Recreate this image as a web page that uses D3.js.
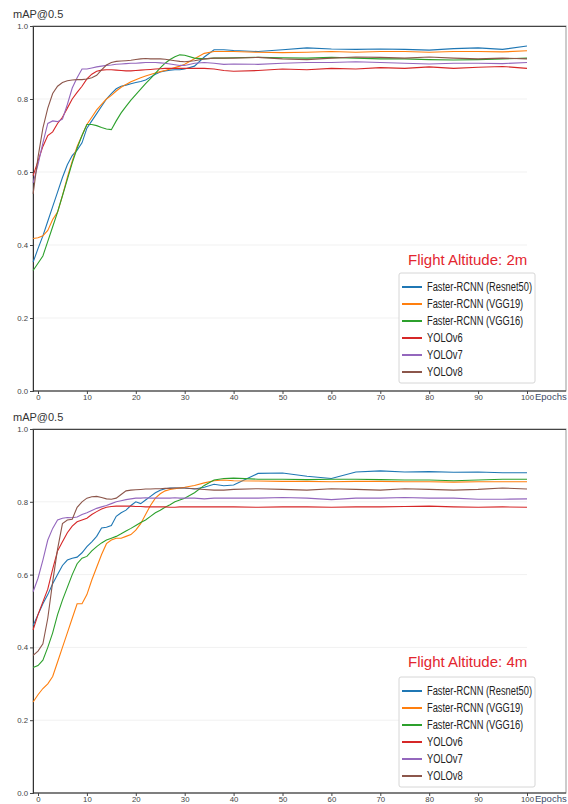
<!DOCTYPE html>
<html>
<head>
<meta charset="utf-8">
<script src="https://cdn.jsdelivr.net/npm/d3@7"></script>
<style>
  body { margin: 0; background: #fff; }
  svg { display: block; font-family: "Liberation Sans", Arial, sans-serif; }
  .tick text { font-size: 7.8px; fill: #444; }
  .legend text { font-family: "Liberation Sans", Arial, sans-serif; font-size: 12px; fill: #222; }
</style>
</head>
<body>
<div id="chart"></div>
<script>
var svgWidth = 568;
var svgHeight = 804;

// epochs (x values shared by every series)
var epochs = [-1, 0, 1, 2, 3, 4, 5, 6, 7, 8, 9, 10, 11, 12, 13, 14, 15, 16, 17, 18, 19, 20,
  21, 22, 23, 24, 25, 26, 27, 28, 29, 30, 32, 34, 36, 38, 40,
  45, 50, 55, 60, 65, 70, 75, 80, 85, 90, 95, 100];

var seriesNames = ["Faster-RCNN (Resnet50)", "Faster-RCNN (VGG19)", "Faster-RCNN (VGG16)", "YOLOv6", "YOLOv7", "YOLOv8"];
var seriesColors = ["#1f77b4", "#ff7f0e", "#2ca02c", "#d62728", "#9467bd", "#8c564b"];
var yTicks = [0, 0.2, 0.4, 0.6, 0.8, 1.0];
var xTicks = [0, 10, 20, 30, 40, 50, 60, 70, 80, 90, 100];

// Flight altitude 2m
var resnet50_2m = [.353, .39, .425, .465, .505, .545, .585, .62, .645, .66, .68, .72, .74, .76, .78, .80, .815, .828, .835, .838, .842, .845,
  .848, .852, .86, .868, .874, .877, .879, .88, .88, .882, .89, .915, .935, .935, .933,
  .93, .935, .94, .937, .936, .937, .936, .934, .938, .94, .936, .945];
var vgg19_2m = [.418, .42, .425, .44, .47, .49, .535, .585, .63, .67, .70, .73, .75, .77, .785, .80, .81, .822, .832, .84, .847, .853,
  .858, .863, .867, .871, .875, .878, .882, .886, .89, .895, .91, .925, .93, .93, .93,
  .928, .927, .928, .93, .928, .93, .93, .928, .93, .93, .929, .932];
var vgg16_2m = [.33, .35, .37, .41, .45, .49, .535, .58, .625, .665, .70, .73, .73, .727, .722, .718, .716, .74, .762, .78, .797, .812,
  .827, .842, .856, .87, .885, .898, .908, .916, .921, .92, .912, .91, .912, .912, .913,
  .914, .913, .912, .914, .912, .91, .91, .908, .907, .908, .91, .912];
var yolov6_2m = [.59, .63, .67, .70, .71, .733, .75, .775, .80, .818, .835, .855, .868, .876, .879, .88, .88, .879, .878, .877, .877, .878,
  .879, .88, .881, .882, .883, .884, .884, .884, .884, .884, .884, .884, .882, .878, .876,
  .878, .882, .88, .884, .882, .886, .884, .888, .884, .887, .889, .884];
var yolov7_2m = [.57, .62, .68, .733, .74, .738, .745, .785, .83, .858, .882, .882, .885, .888, .89, .892, .893, .895, .896, .897, .898, .898,
  .899, .90, .90, .90, .899, .898, .896, .894, .892, .892, .898, .90, .898, .895, .896,
  .895, .898, .90, .90, .902, .90, .898, .896, .898, .898, .897, .90];
var yolov8_2m = [.54, .64, .72, .775, .815, .835, .845, .85, .852, .853, .853, .855, .858, .865, .88, .893, .90, .903, .904, .905, .906, .908,
  .91, .911, .91, .91, .91, .909, .907, .905, .903, .902, .905, .91, .912, .912, .912,
  .914, .91, .908, .912, .915, .914, .912, .915, .912, .91, .912, .91];

// Flight altitude 4m
var resnet50_4m = [.46, .49, .52, .545, .575, .60, .625, .64, .645, .648, .66, .677, .69, .705, .728, .73, .735, .76, .77, .777, .79, .80,
  .795, .805, .815, .825, .832, .836, .838, .838, .838, .838, .835, .84, .848, .844, .846,
  .878, .879, .87, .864, .882, .885, .882, .883, .881, .882, .88, .88];
var vgg19_4m = [.25, .27, .287, .30, .32, .36, .40, .44, .48, .52, .52, .545, .585, .62, .655, .685, .695, .70, .70, .705, .71, .722,
  .74, .765, .79, .81, .822, .83, .834, .836, .838, .84, .845, .852, .858, .86, .858,
  .857, .856, .856, .855, .856, .856, .855, .855, .854, .855, .855, .855];
var vgg16_4m = [.345, .35, .365, .40, .44, .49, .53, .565, .60, .63, .645, .65, .665, .677, .687, .695, .70, .705, .712, .72, .727, .735,
  .743, .75, .76, .77, .777, .785, .792, .80, .805, .81, .825, .845, .86, .864, .865,
  .862, .862, .861, .862, .862, .861, .86, .86, .858, .86, .862, .862];
var yolov6_4m = [.448, .49, .525, .56, .615, .665, .69, .715, .733, .745, .75, .755, .765, .773, .78, .785, .787, .788, .788, .788, .788, .787,
  .787, .786, .786, .786, .786, .786, .785, .785, .786, .786, .786, .786, .786, .786, .786,
  .785, .786, .786, .785, .786, .786, .787, .788, .786, .785, .786, .785];
var yolov7_4m = [.553, .59, .64, .695, .727, .75, .755, .757, .756, .758, .765, .77, .776, .782, .786, .79, .795, .80, .803, .806, .808, .81,
  .81, .811, .81, .81, .81, .81, .81, .811, .81, .81, .81, .808, .81, .81, .81,
  .81, .812, .81, .806, .81, .81, .812, .81, .81, .807, .807, .808];
var yolov8_4m = [.378, .39, .41, .48, .58, .67, .74, .75, .752, .785, .80, .81, .814, .815, .812, .808, .807, .81, .82, .83, .832, .833,
  .834, .835, .835, .836, .836, .837, .837, .838, .838, .838, .836, .834, .832, .832, .834,
  .836, .834, .832, .836, .834, .832, .836, .834, .832, .834, .838, .835];

var panels = [
  { top: 26, bottom: 391, titleY: 18, label: "Flight Altitude: 2m", labelY: 265,
    legendTop: 273, series: [resnet50_2m, vgg19_2m, vgg16_2m, yolov6_2m, yolov7_2m, yolov8_2m] },
  { top: 429, bottom: 793, titleY: 421, label: "Flight Altitude: 4m", labelY: 667,
    legendTop: 677, series: [resnet50_4m, vgg19_4m, vgg16_4m, yolov6_4m, yolov7_4m, yolov8_4m] }
];

var left = 33, right = 566;

var svg = d3.select("#chart")
  .append("svg")
  .attr("width", svgWidth)
  .attr("height", svgHeight);

// x scale: 0 -> 38px, 100 -> 527px
var xScale = d3.scaleLinear()
  .domain([0, 100])
  .range([38, 527]);

panels.forEach(function(p) {
  var yScale = d3.scaleLinear()
    .domain([0, 1])
    .range([p.bottom, p.top]);

  var g = svg.append("g");

  // faint gridlines
  g.selectAll("line.grid")
    .data(yTicks.slice(1, 5))
    .enter()
    .append("line")
    .attr("class", "grid")
    .attr("x1", left)
    .attr("x2", xScale(100))
    .attr("y1", d => yScale(d))
    .attr("y2", d => yScale(d))
    .attr("stroke", "#f1f1f1")
    .attr("stroke-width", 1);

  // frame
  g.append("rect")
    .attr("x", left)
    .attr("y", p.top)
    .attr("width", right - left)
    .attr("height", p.bottom - p.top)
    .attr("fill", "none")
    .attr("stroke", "#999");

  // axes
  var leftAxis = d3.axisLeft(yScale)
    .tickValues(yTicks)
    .tickFormat(d3.format(".1f"))
    .tickSize(3)
    .tickPadding(2);
  var bottomAxis = d3.axisBottom(xScale)
    .tickValues(xTicks)
    .tickSize(3)
    .tickPadding(1);

  var ya = g.append("g")
    .attr("transform", `translate(${left}, 0)`)
    .call(leftAxis);
  var xa = g.append("g")
    .attr("transform", `translate(0, ${p.bottom})`)
    .call(bottomAxis);
  [ya, xa].forEach(function(a) {
    a.select(".domain").attr("stroke", "#333");
    a.selectAll(".tick line").attr("stroke", "#444");
  });
  xa.select(".domain").attr("d", `M${left},0H${right}`);
  xa.selectAll(".tick text").attr("dy", "0.62em");

  g.append("line")
    .attr("x1", left).attr("x2", right)
    .attr("y1", p.top + 0.5).attr("y2", p.top + 0.5)
    .attr("stroke", "#444");

  // title and axis label
  g.append("text")
    .attr("x", 13)
    .attr("y", p.titleY)
    .attr("font-size", 11)
    .attr("fill", "#333")
    .text("mAP@0.5");

  g.append("text")
    .attr("x", 535)
    .attr("y", p.bottom + 9)
    .attr("font-size", 9.5)
    .attr("fill", "#3c4a66")
    .text("Epochs");

  // lines
  var line = d3.line()
    .x((d, i) => xScale(epochs[i]))
    .y(d => yScale(d));

  g.selectAll("path.series")
    .data(p.series)
    .enter()
    .append("path")
    .attr("class", "series")
    .attr("d", d => line(d))
    .attr("fill", "none")
    .attr("stroke", (d, i) => seriesColors[i])
    .attr("stroke-width", 1.1);

  // label
  g.append("text")
    .attr("x", 408)
    .attr("y", p.labelY)
    .attr("font-size", 15)
    .attr("fill", "#e3262f")
    .text(p.label);

  // legend
  var lg = g.append("g")
    .attr("class", "legend")
    .attr("transform", `translate(399, ${p.legendTop})`);

  lg.append("rect")
    .attr("width", 136)
    .attr("height", 110)
    .attr("rx", 2)
    .attr("fill", "#fff")
    .attr("fill-opacity", 0.85)
    .attr("stroke", "#d6d6d6");

  var rows = lg.selectAll("g.row")
    .data(seriesNames)
    .enter()
    .append("g")
    .attr("class", "row")
    .attr("transform", (d, i) => `translate(0, ${14 + i * 17})`);

  rows.append("line")
    .attr("x1", 3)
    .attr("x2", 23)
    .attr("stroke", (d, i) => seriesColors[i])
    .attr("stroke-width", 2);

  var labels = rows.append("text")
    .attr("x", 28)
    .attr("y", 4)
    .text(d => d);

  // the legend font is condensed: squeeze every label by the same factor
  var widest = d3.max(labels.nodes(), n => n.getComputedTextLength());
  var squeeze = 105 / widest;
  labels.each(function() {
    var w = this.getComputedTextLength();
    d3.select(this)
      .attr("textLength", w * squeeze)
      .attr("lengthAdjust", "spacingAndGlyphs");
  });
});
</script>
</body>
</html>
